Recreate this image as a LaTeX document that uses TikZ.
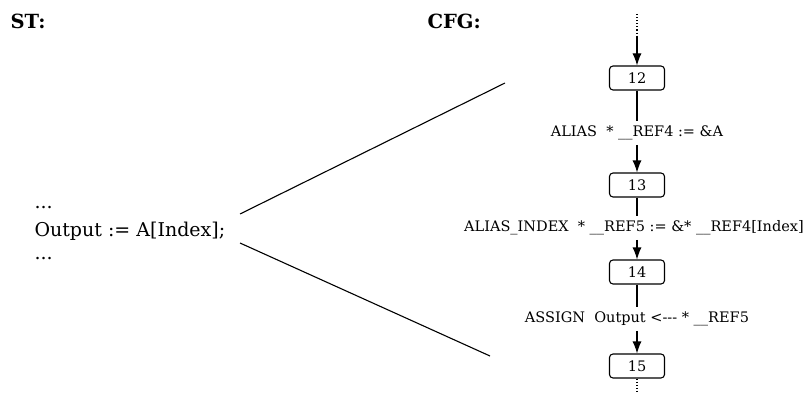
\documentclass[tikz,border=0pt]{standalone}
\usepackage{fontspec}
\setmainfont{DejaVu Serif}
\usetikzlibrary{arrows.meta}
\tikzset{
  blk/.style={draw, rounded corners=3.5pt, minimum width=55pt, minimum height=24pt, inner sep=0pt, font=\fontsize{14.5}{15}\selectfont, line width=1.1pt},
  lbl/.style={fill=white, inner xsep=1pt, inner ysep=4.5pt, font=\fontsize{14.5}{16}\selectfont},
  flow/.style={line width=1.1pt, -{Latex[length=12pt,width=9pt]}},
  seg/.style={line width=1.1pt},
  dots/.style={line width=1.1pt, dotted},
  head/.style={font=\fontsize{19.5}{22}\selectfont\bfseries, anchor=west},
  code/.style={font=\fontsize{19}{20}\selectfont, anchor=west},
}
\begin{document}
\begin{tikzpicture}[x=1pt,y=-1pt]
\useasboundingbox (0,0) rectangle (806,396);
\node[head] (st) at (7,21) {ST:};
\node[head] (cfg) at (424,21) {CFG:};
\node[code] (d1) at (31,208) {...};
\node[code] (stmt) at (31,231) {Output := A[Index];};
\node[code] (d2) at (31,259) {...};
\coordinate (p1) at (240,214);
\coordinate (p2) at (505,83);
\coordinate (q1) at (240,243);
\coordinate (q2) at (490,356);
\draw[seg] (p1) -- (p2);
\draw[seg] (q1) -- (q2);
\node[blk] (n12) at (637,78) {12};
\node[blk] (n13) at (637,185) {13};
\node[blk] (n14) at (637,272) {14};
\node[blk] (n15) at (637,366) {15};
\node[lbl] (l1) at (637,133) {ALIAS\ \ * \_\_REF4 := \&A};
\node[lbl] (l2) at (634,228) {ALIAS\_INDEX\ \ * \_\_REF5 := \&* \_\_REF4[Index]};
\node[lbl] (l3) at (637,319) {ASSIGN\ \ Output <-{}-{}- * \_\_REF5};
\coordinate (t0) at (637,14);
\coordinate (t1) at (637,37);
\coordinate (b0) at (637,394);
\draw[dots] (t0) -- (t1);
\draw[flow] (t1) -- (n12.north);
\draw[seg] (n12.south) -- (n12.south |- l1.north);
\draw[flow] (n13.north |- l1.south) -- (n13.north);
\draw[seg] (n13.south) -- (n13.south |- l2.north);
\draw[flow] (n14.north |- l2.south) -- (n14.north);
\draw[seg] (n14.south) -- (n14.south |- l3.north);
\draw[flow] (n15.north |- l3.south) -- (n15.north);
\draw[dots] (n15.south) -- (b0);
\end{tikzpicture}
\end{document}
